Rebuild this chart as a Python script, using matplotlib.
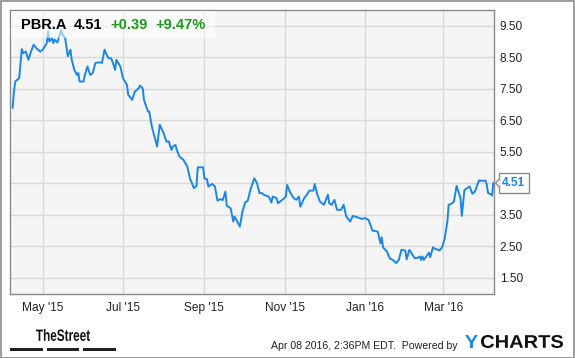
import matplotlib
matplotlib.use("Agg")
import matplotlib.pyplot as plt
from matplotlib.patches import Rectangle, Polygon, PathPatch
from matplotlib.textpath import TextPath
from matplotlib.font_manager import FontProperties
from matplotlib.transforms import Affine2D, IdentityTransform
import pandas as pd

plt.rcParams['font.family'] = ['Liberation Sans', 'DejaVu Sans']

dates = [
    "2015-04-08", "2015-04-09", "2015-04-10", "2015-04-13", "2015-04-15", "2015-04-16",
    "2015-04-18", "2015-04-20", "2015-04-22", "2015-04-24", "2015-04-26", "2015-04-29",
    "2015-05-01", "2015-05-04", "2015-05-05", "2015-05-06", "2015-05-08", "2015-05-09",
    "2015-05-10", "2015-05-12", "2015-05-15", "2015-05-16", "2015-05-18", "2015-05-20",
    "2015-05-22", "2015-05-23", "2015-05-25", "2015-05-27", "2015-05-28", "2015-05-29",
    "2015-06-01", "2015-06-02", "2015-06-04", "2015-06-06", "2015-06-08", "2015-06-10",
    "2015-06-13", "2015-06-15", "2015-06-16", "2015-06-17", "2015-06-18", "2015-06-20",
    "2015-06-22", "2015-06-23", "2015-06-25", "2015-06-26", "2015-06-29", "2015-07-01",
    "2015-07-04", "2015-07-05", "2015-07-08", "2015-07-10", "2015-07-13", "2015-07-14",
    "2015-07-16", "2015-07-17", "2015-07-20", "2015-07-21", "2015-07-23", "2015-07-25",
    "2015-07-27", "2015-07-29", "2015-08-01", "2015-08-03", "2015-08-05", "2015-08-06",
    "2015-08-07", "2015-08-08", "2015-08-10", "2015-08-11", "2015-08-13", "2015-08-16",
    "2015-08-19", "2015-08-21", "2015-08-24", "2015-08-26", "2015-08-27", "2015-08-31",
    "2015-09-01", "2015-09-03", "2015-09-04", "2015-09-07", "2015-09-09", "2015-09-11",
    "2015-09-13", "2015-09-15", "2015-09-17", "2015-09-18", "2015-09-21", "2015-09-23",
    "2015-09-24", "2015-09-26", "2015-09-28", "2015-09-30", "2015-10-02", "2015-10-04",
    "2015-10-06", "2015-10-09", "2015-10-11", "2015-10-13", "2015-10-15", "2015-10-16",
    "2015-10-20", "2015-10-22", "2015-10-23", "2015-10-26", "2015-10-27", "2015-10-31",
    "2015-11-02", "2015-11-03", "2015-11-05", "2015-11-08", "2015-11-10", "2015-11-12",
    "2015-11-13", "2015-11-16", "2015-11-18", "2015-11-20", "2015-11-23", "2015-11-24",
    "2015-11-26", "2015-11-28", "2015-12-01", "2015-12-04", "2015-12-05", "2015-12-07",
    "2015-12-09", "2015-12-11", "2015-12-14", "2015-12-16", "2015-12-18", "2015-12-21",
    "2015-12-23", "2015-12-26", "2015-12-30", "2016-01-01", "2016-01-04", "2016-01-07",
    "2016-01-11", "2016-01-13", "2016-01-14", "2016-01-15", "2016-01-18", "2016-01-20",
    "2016-01-23", "2016-01-25", "2016-01-27", "2016-01-29", "2016-02-01", "2016-02-02",
    "2016-02-04", "2016-02-07", "2016-02-08", "2016-02-10", "2016-02-12", "2016-02-13",
    "2016-02-14", "2016-02-15", "2016-02-17", "2016-02-19", "2016-02-20", "2016-02-22",
    "2016-02-24", "2016-02-25", "2016-02-27", "2016-02-29", "2016-03-02", "2016-03-04",
    "2016-03-05", "2016-03-07", "2016-03-09", "2016-03-11", "2016-03-14", "2016-03-15",
    "2016-03-17", "2016-03-21", "2016-03-23", "2016-03-25", "2016-03-28", "2016-03-31",
    "2016-04-02", "2016-04-03", "2016-04-04", "2016-04-06", "2016-04-07", "2016-04-08",
]
prices = [
    6.90, 7.41, 7.73, 7.84, 8.76, 8.63,
    8.68, 8.42, 8.68, 8.90, 8.79, 8.68,
    8.74, 8.95, 9.32, 9.00, 9.11, 8.95,
    9.06, 8.97, 9.35, 9.21, 9.11, 8.53,
    8.74, 8.42, 8.10, 7.94, 8.00, 7.73,
    7.73, 7.94, 8.21, 7.94, 8.00, 8.32,
    8.34, 8.32, 8.53, 8.74, 8.63, 8.47,
    8.47, 8.37, 8.10, 8.42, 8.21, 7.84,
    7.63, 7.31, 7.15, 7.41, 7.52, 7.60,
    7.52, 7.15, 6.78, 6.78, 6.30, 5.99,
    5.67, 6.36, 6.09, 5.83, 5.83, 5.67,
    5.56, 5.67, 5.72, 5.56, 5.35, 5.25,
    5.03, 4.66, 4.35, 4.42, 5.01, 5.01,
    4.66, 4.63, 4.40, 4.48, 4.40, 3.95,
    4.00, 3.97, 4.24, 3.79, 3.71, 3.29,
    3.45, 3.29, 3.13, 3.61, 3.89, 3.95,
    4.29, 4.66, 4.51, 4.19, 4.19, 4.14,
    4.08, 3.89, 4.08, 4.03, 3.87, 4.00,
    4.08, 4.45, 4.24, 4.03, 3.98, 4.08,
    3.76, 4.03, 4.14, 4.27, 4.27, 4.48,
    4.14, 3.92, 3.82, 4.14, 3.87, 3.82,
    3.98, 3.66, 3.66, 3.82, 3.45, 3.29,
    3.47, 3.43, 3.37, 3.40, 3.34, 3.00,
    2.97, 2.60, 2.79, 2.47, 2.34, 2.13,
    2.05, 1.97, 2.07, 2.39, 2.37, 2.09,
    2.39, 2.20, 2.13, 2.13, 2.18, 2.07,
    2.18, 2.07, 2.18, 2.30, 2.16, 2.47,
    2.41, 2.41, 2.37, 2.47, 2.76, 3.29,
    3.82, 3.85, 3.92, 4.42, 4.03, 3.47,
    4.29, 4.40, 4.17, 4.24, 4.59, 4.58,
    4.59, 4.45, 4.19, 4.16, 4.11, 4.51,
]

ticker = "PBR.A"
last_price = "4.51"
change = "+0.39"
change_pct = "+9.47%"
y_ticks = [1.5, 2.5, 3.5, 4.5, 5.5, 6.5, 7.5, 8.5, 9.5]
y_tick_labels = ["1.50", "2.50", "3.50", "", "5.50", "6.50", "7.50", "8.50", "9.50"]
x_tick_dates = ["2015-05-01", "2015-07-01", "2015-09-01", "2015-11-01", "2016-01-01", "2016-03-01"]
x_tick_labels = ["May '15", "Jul '15", "Sep '15", "Nov '15", "Jan '16", "Mar '16"]
timestamp = "Apr 08 2016, 2:36PM EDT.  Powered by"

W, H = 575, 358
fig = plt.figure(figsize=(W / 100, H / 100), dpi=100)
fig.patch.set_facecolor("white")

def px(x, y):
    return x / W, 1 - y / H

def fitted_text(s, x0, x1, ytop, ybot, color, weight="bold"):
    """Draw text as a path stretched to fit a pixel box (top-left origin)."""
    tp = TextPath((0, 0), s, size=20, prop=FontProperties(family="Liberation Sans", weight=weight))
    ext = tp.get_extents()
    sx = (x1 - x0) / ext.width
    sy = (ybot - ytop) / ext.height
    tr = Affine2D().translate(-ext.x0, -ext.y0).scale(sx, sy).translate(x0, H - ybot)
    fig.add_artist(PathPatch(tp, transform=tr + IdentityTransform(), facecolor=color,
                             edgecolor="none"))

# outer frame
fig.add_artist(Rectangle((0.5 / W, 0.5 / H), 1 - 1.5 / W, 1 - 1.5 / H, transform=fig.transFigure,
                         fill=False, edgecolor="#8c8c8c", linewidth=1.2))

left, right, top, bottom = 10, 494, 10, 294
ax = fig.add_axes([left / W, 1 - bottom / H, (right - left) / W, (bottom - top) / H])
ax.set_facecolor("#f5f5f5")

d = pd.to_datetime(dates)
line_color = "#1a86e8"
ax.plot(d, prices, color=line_color, linewidth=1.4, solid_joinstyle="round")

ax.set_xlim(pd.Timestamp("2015-04-06"), pd.Timestamp("2016-04-08 12:00"))
ax.set_ylim(0.99, 10.0)

ax.set_yticks(y_ticks)
ax.set_yticklabels(y_tick_labels)
ax.set_xticks(pd.to_datetime(x_tick_dates))
ax.set_xticklabels(x_tick_labels)
ax.yaxis.tick_right()
ax.tick_params(axis="both", length=0, labelsize=8.6, colors="#222222")
ax.tick_params(axis="y", pad=4)
ax.tick_params(axis="x", pad=6)
ax.grid(True, color="#d8d8d8", linewidth=1.0)
ax.set_axisbelow(True)
for s in ax.spines.values():
    s.set_color("#8a8a8a")
    s.set_linewidth(1.0)

# header box
fig.add_artist(Rectangle(px(11, 38), 204 / W, 27 / H, transform=fig.transFigure,
                         facecolor="white", alpha=0.55, edgecolor="none"))
hy = 1 - 25 / H
fig.text(21 / W, hy, ticker, fontsize=10.5, fontweight="bold", color="black", va="center")
fig.text(74 / W, hy, last_price, fontsize=10.5, fontweight="bold", color="black", va="center")
fig.text(110 / W, hy, change, fontsize=10.5, fontweight="bold", color="#1a9a1a", va="center")
fig.text(155 / W, hy, change_pct, fontsize=10.5, fontweight="bold", color="#1a9a1a", va="center")

# last value label with pointer
ax.annotate(last_price, xy=(1.0, prices[-1]), xycoords=("axes fraction", "data"),
            xytext=(6, 0), textcoords="offset points", va="center", ha="left",
            fontsize=8.6, fontweight="bold", color=line_color, zorder=5,
            bbox=dict(boxstyle="square,pad=0.3", facecolor="white", edgecolor="#8a8a8a", linewidth=1.0),
            annotation_clip=False)
yd = ax.transData.transform((0, prices[-1]))[1]
xr = right + 0.5
tri = Polygon([(xr + 5.2, yd + 4.5), (xr + 1, yd), (xr + 5.2, yd - 4.5)], closed=False,
              transform=IdentityTransform(), facecolor="white", edgecolor="#8a8a8a",
              linewidth=1.0, zorder=6)
fig.add_artist(tri)

# footer
fitted_text("TheStreet", 36, 90, 329, 341, "#111111")
for x0, x1 in [(10, 43), (47, 79), (83, 116)]:
    fig.add_artist(Rectangle(px(x0, 351), (x1 - x0) / W, 3 / H, transform=fig.transFigure,
                             facecolor="#222222", edgecolor="none"))
fig.text(271 / W, 1 - 346 / H, timestamp, fontsize=7.6, va="center", color="#222222")
fitted_text("Y", 465, 478, 335, 348, "#1a8fe3")
fitted_text("CHARTS", 481, 563, 335, 348, "#111111")

fig.savefig("out.png", dpi=100)
